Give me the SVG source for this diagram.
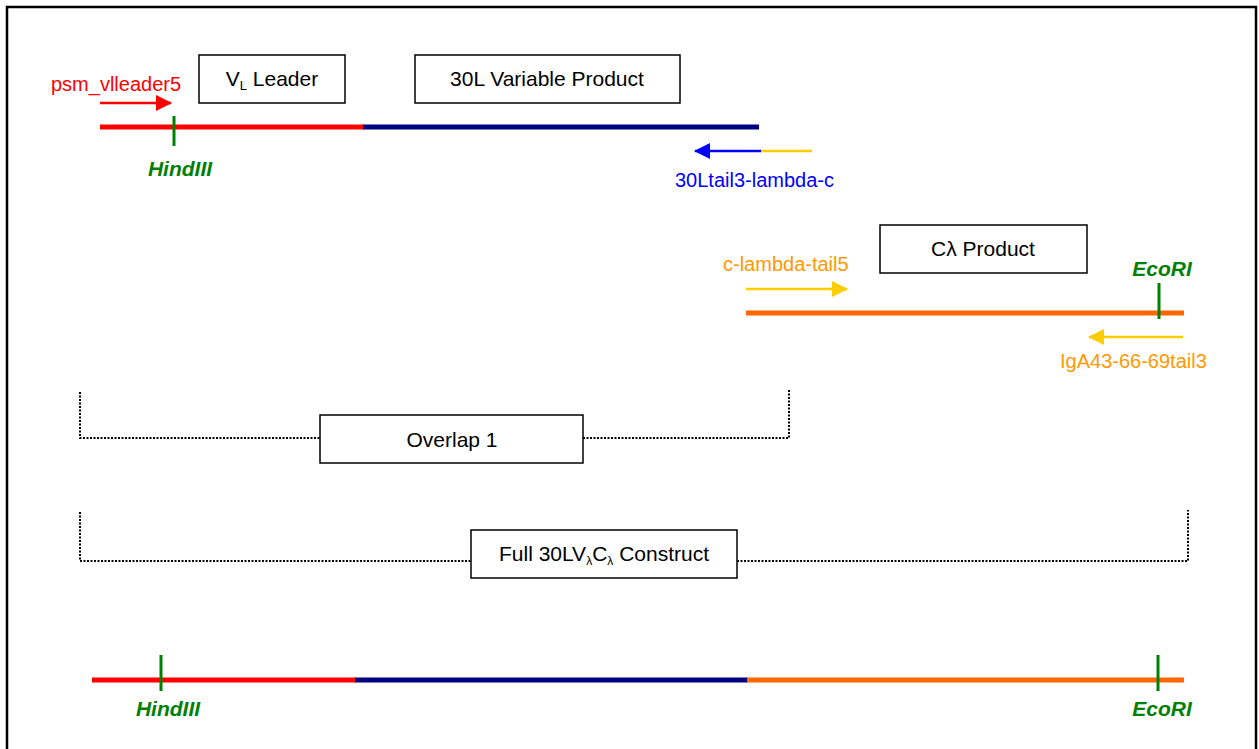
<svg xmlns="http://www.w3.org/2000/svg" width="1259" height="749" viewBox="0 0 1259 749">
<style>
text{font-family:"Liberation Sans",Arial,sans-serif;}
.box{fill:#fff;stroke:#000;stroke-width:1.5;}
.lbl{font-size:21px;fill:#000;text-anchor:middle;}
.prm{font-size:20px;}
.site{font-size:21px;fill:#008000;font-weight:bold;font-style:italic;text-anchor:middle;}
.tick{stroke:#008000;stroke-width:3;}
.dot{fill:none;stroke:#000;stroke-width:2;stroke-dasharray:2,1.5;}
</style>
<defs>
<marker id="ahR" markerWidth="16" markerHeight="16" refX="15" refY="8" orient="auto" markerUnits="userSpaceOnUse"><path d="M0,0 L16,8 L0,16 z" fill="#FF0000"/></marker>
<marker id="ahB" markerWidth="16" markerHeight="16" refX="15" refY="8" orient="auto" markerUnits="userSpaceOnUse"><path d="M0,0 L16,8 L0,16 z" fill="#0000FF"/></marker>
<marker id="ahY" markerWidth="16" markerHeight="16" refX="15" refY="8" orient="auto" markerUnits="userSpaceOnUse"><path d="M0,0 L16,8 L0,16 z" fill="#FFCC00"/></marker>
</defs>
<rect x="7" y="7" width="1249" height="750" fill="#fff" stroke="#000" stroke-width="2.5"/>

<g id="connectors">
<line x1="100" y1="127" x2="364" y2="127" stroke="#FF0000" stroke-width="5"/>
<line x1="363" y1="127" x2="759" y2="127" stroke="#000080" stroke-width="5"/>
<line x1="174" y1="116" x2="174" y2="146" class="tick"/>
<line x1="100" y1="103" x2="171" y2="103" stroke="#FF0000" stroke-width="2.5" marker-end="url(#ahR)"/>
<line x1="812" y1="151" x2="760" y2="151" stroke="#FFCC00" stroke-width="2.5"/>
<line x1="761" y1="151" x2="695" y2="151" stroke="#0000FF" stroke-width="2.5" marker-end="url(#ahB)"/>
<line x1="746" y1="313" x2="1184" y2="313" stroke="#FF6600" stroke-width="5"/>
<line x1="1159" y1="283" x2="1159" y2="319" class="tick"/>
<line x1="746" y1="289" x2="847" y2="289" stroke="#FFCC00" stroke-width="2.5" marker-end="url(#ahY)"/>
<line x1="1183" y1="337" x2="1089" y2="337" stroke="#FFCC00" stroke-width="2.5" marker-end="url(#ahY)"/>
<polyline class="dot" points="80,392 80,438 320,438"/>
<polyline class="dot" points="583,438 789,438 789,390"/>
<polyline class="dot" points="80,512 80,561 471,561"/>
<polyline class="dot" points="737,561 1188,561 1188,510"/>
<line x1="92" y1="680" x2="356" y2="680" stroke="#FF0000" stroke-width="5"/>
<line x1="355" y1="680" x2="748" y2="680" stroke="#000080" stroke-width="5"/>
<line x1="747" y1="680" x2="1184" y2="680" stroke="#FF6600" stroke-width="5"/>
<line x1="161" y1="655" x2="161" y2="691" class="tick"/>
<line x1="1158" y1="655" x2="1158" y2="691" class="tick"/>
</g>

<g id="vl-leader">
<rect class="box" x="199" y="55" width="146" height="48"/>
<text class="lbl" x="272" y="86">V<tspan font-size="13" dy="4">L</tspan><tspan dy="-4"> Leader</tspan></text>
</g>
<g id="variable-product">
<rect class="box" x="415" y="55" width="265" height="48"/>
<text class="lbl" x="547" y="86">30L Variable Product</text>
</g>
<g id="clambda-product">
<rect class="box" x="880" y="225" width="207" height="48"/>
<text class="lbl" x="983" y="256">Cλ Product</text>
</g>
<g id="overlap1">
<rect class="box" x="320" y="415" width="263" height="48"/>
<text class="lbl" x="452" y="447">Overlap 1</text>
</g>
<g id="full-construct">
<rect class="box" x="471" y="530" width="266" height="48"/>
<text class="lbl" x="604" y="561">Full 30LV<tspan font-size="12" dy="4">λ</tspan><tspan dy="-4">C</tspan><tspan font-size="12" dy="4">λ</tspan><tspan dy="-4"> Construct</tspan></text>
</g>

<g id="labels">
<text class="prm" x="51" y="91" fill="#FF0000">psm_vlleader5</text>
<text class="site" x="180" y="176">HindIII</text>
<text class="prm" x="675" y="187" fill="#0000FF">30Ltail3-lambda-c</text>
<text class="prm" x="723" y="271" fill="#FF9900">c-lambda-tail5</text>
<text class="site" x="1162" y="276">EcoRI</text>
<text class="prm" x="1060" y="368" fill="#FF9900">IgA43-66-69tail3</text>
<text class="site" x="168" y="716">HindIII</text>
<text class="site" x="1162" y="716">EcoRI</text>
</g>
</svg>
